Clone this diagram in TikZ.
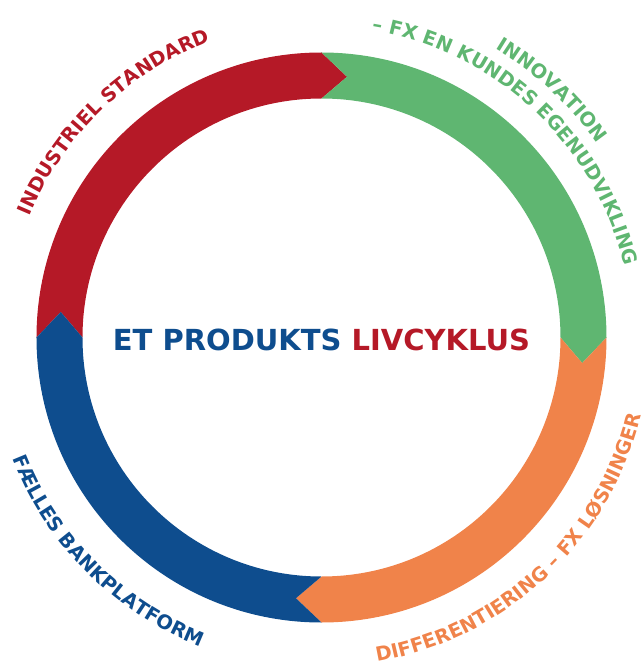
\documentclass[tikz,border=0pt]{standalone}
\usepackage{fontspec}
\setmainfont{DejaVu Sans}
\usetikzlibrary{decorations.text}
\definecolor{redc}{RGB}{181,25,39}
\definecolor{greenc}{RGB}{95,182,113}
\definecolor{orangec}{RGB}{240,131,74}
\definecolor{bluec}{RGB}{14,77,142}
\begin{document}
\begin{tikzpicture}[line join=round, font=\bfseries,
    ringtext/.style={decorate, decoration={text along path, text align=center, text color=#1}}]
                \def\ro{285pt} \def\ri{239pt} \def\rmid{262pt} \def\tipang{5.6}
                \useasboundingbox (-321.5pt,-326.5pt) rectangle (322.5pt,337.5pt);
                \fill[redc] (180:\ro) arc[start angle=180, end angle=90, radius=\ro] -- ({90-\tipang}:\rmid) -- (90:\ri)
                    arc[start angle=90, end angle=180, radius=\ri] -- ({180-\tipang}:\rmid) -- cycle;
                \fill[greenc] (90:\ro) arc[start angle=90, end angle=0, radius=\ro] -- ({-\tipang}:\rmid) -- (0:\ri)
                    arc[start angle=0, end angle=90, radius=\ri] -- ({90-\tipang}:\rmid) -- cycle;
                \fill[orangec] (0:\ro) arc[start angle=0, end angle=-90, radius=\ro] -- ({-90-\tipang}:\rmid) -- (-90:\ri)
                    arc[start angle=-90, end angle=0, radius=\ri] -- ({-\tipang}:\rmid) -- cycle;
                \fill[bluec] (-90:\ro) arc[start angle=-90, end angle=-180, radius=\ro] -- ({-180-\tipang}:\rmid) -- (-180:\ri)
                    arc[start angle=-180, end angle=-90, radius=\ri] -- ({-90-\tipang}:\rmid) -- cycle;
                \node (title) at (0,-2pt) {\fontsize{29}{30}\selectfont\textcolor{bluec}{ET PRODUKTS} \textcolor{redc}{LIVCYKLUS}};
                % labels round the ring
                \path[ringtext=redc, decoration={text={|\bfseries\fontsize{19.5}{20}\selectfont|INDUSTRIEL STANDARD}}]
                    (174:316pt) arc[start angle=174, end angle=94, radius=316pt];
                \path[ringtext=greenc, decoration={text={|\bfseries\fontsize{19.5}{20}\selectfont|INNOVATION}}]
                    (77:337pt) arc[start angle=77, end angle=17, radius=337pt];
                \path[ringtext=greenc, decoration={text={|\bfseries\fontsize{19.5}{20}\selectfont|– FX EN KUNDES EGENUDVIKLING}}]
                    (87:311pt) arc[start angle=87, end angle=7, radius=311pt];
                \path[ringtext=orangec, decoration={text={|\bfseries\fontsize{19.5}{20}\selectfont|DIFFERENTIERING – FX LØSNINGER}}]
                    (-87:329pt) arc[start angle=-87, end angle=-7, radius=329pt];
                \path[ringtext=bluec, decoration={text={|\bfseries\fontsize{19.5}{20}\selectfont|FÆLLES BANKPLATFORM}}]
                    (185:332pt) arc[start angle=185, end angle=265, radius=332pt];
\end{tikzpicture}
\end{document}
